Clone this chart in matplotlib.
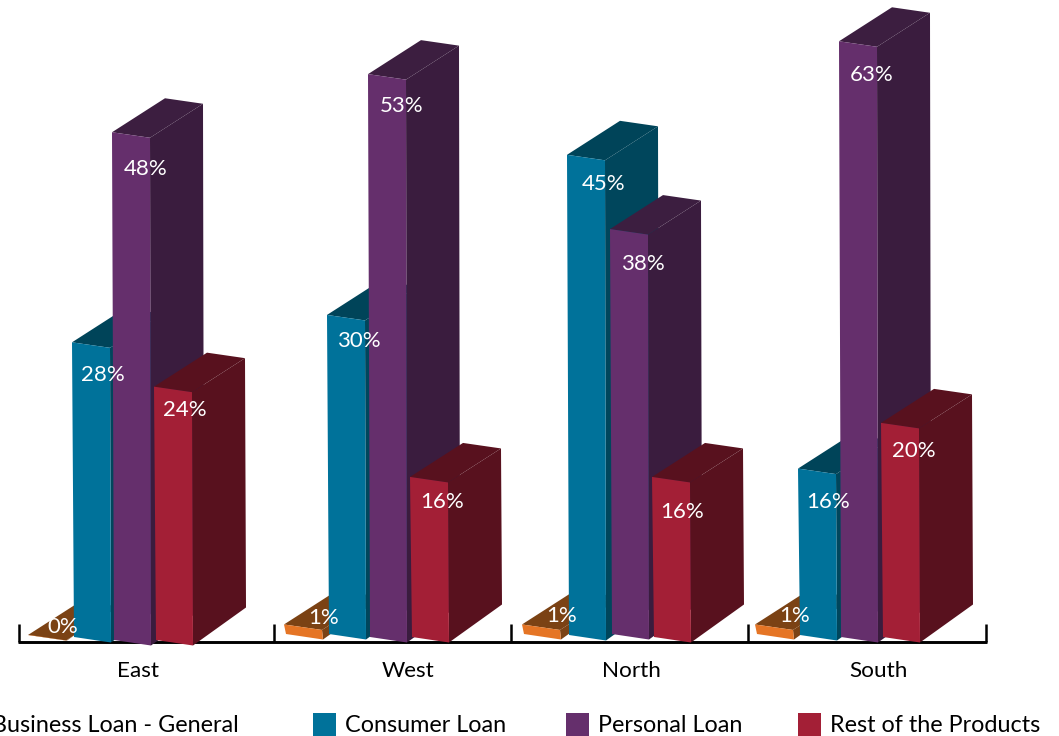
import matplotlib
matplotlib.use("Agg")
import matplotlib.pyplot as plt
from matplotlib.patches import Polygon, Rectangle

plt.rcParams['font.family'] = ['Lato', 'DejaVu Sans']

# Labels printed on the bars
regions = ["East", "West", "North", "South"]
business = [0, 1, 1, 1]
consumer = [28, 30, 45, 16]
personal = [48, 53, 38, 63]
rest = [24, 16, 16, 20]

# Heights the bars really have in the picture (South personal is cut short there)
business_drawn = [0, 0.9, 0.9, 0.9]
consumer_drawn = [27.8, 30.1, 45.3, 15.7]
personal_drawn = [47.9, 53.1, 38.2, 56.2]
rest_drawn = [23.9, 15.1, 15.1, 20.2]

series_names = ["Consumer Loan", "Personal Loan", "Rest of the Products"]

# Layout, in pixels of the 1059x736 picture
PX_PER_PCT = 10.6
BAR_W = 38
DEPTH_X = 53
DEPTH_Y_TOP = 34
DEPTH_Y_BOT = 38
SLOPE = 5.5
LEAN = 2

group_x = [72, 327, 567, 798]
axis_y = 642
axis_ticks = [19, 274, 511, 748, 986]
region_x = [138, 408, 631, 879]

# front, top, side colours
c_business = ("#E57525", "#7B4214", "#7B4214")
c_consumer = ("#00729A", "#004459", "#00465C")
c_personal = ("#652F6C", "#3C1E40", "#3A1C3E")
c_rest = ("#A31F36", "#58111E", "#58111E")

# (values, drawn heights, x offset per group, baseline per group, colours, label x, label drop)
series = [
    (business, business_drawn, [-44, -43, -45, -43], [635, 634, 634, 634], c_business,
     [35, 40, 40, 40], [-8, -6, -8, -8]),
    (consumer, consumer_drawn, [0, 0, 0, 0], [637, 634, 635, 635], c_consumer,
     [31, 32, 37, 30], [33, 26, 29, 33]),
    (personal, personal_drawn, [40, 41, 43, 41], [640, 637, 634, 637], c_personal,
     [34, 34, 33, 33], [37, 32, 35, 34]),
    (rest, rest_drawn, [82, 83, 85, 83], [640, 637, 637, 637], c_rest,
     [31, 32, 30, 33], [23, 25, 35, 28]),
]

fig = plt.figure(figsize=(10.59, 7.36), dpi=100)
ax = fig.add_axes([0, 0, 1, 1])
ax.set_xlim(0, 1059)
ax.set_ylim(736, 0)
ax.axis('off')

# Axis line with ticks between the regions
ax.plot([axis_ticks[0] - 1, axis_ticks[-1] + 1], [axis_y, axis_y], color='black', lw=2.1,
        solid_capstyle='butt', zorder=1)
for t in axis_ticks:
    ax.plot([t, t], [axis_y, 624], color='black', lw=1.8, solid_capstyle='butt', zorder=1)


def draw_bar(left, base, height, colours, z):
    front, top, side = colours
    y_top = base - height * PX_PER_PCT
    fl_top = (left, y_top)
    fr_top = (left + BAR_W, y_top + SLOPE)
    fl_bot = (left + LEAN, base)
    fr_bot = (left + BAR_W + 1, base + SLOPE)
    bl_top = (left + DEPTH_X, y_top - DEPTH_Y_TOP)
    br_top = (left + BAR_W + DEPTH_X, y_top + SLOPE - DEPTH_Y_TOP)
    br_bot = (left + BAR_W + 1 + DEPTH_X, base + SLOPE - DEPTH_Y_BOT)
    ax.add_patch(Polygon([fr_top, br_top, br_bot, fr_bot], fc=side, ec='none', zorder=z))
    ax.add_patch(Polygon([fl_top, bl_top, br_top, fr_top], fc=top, ec='none', zorder=z))
    ax.add_patch(Polygon([fl_top, fr_top, fr_bot, fl_bot], fc=front, ec='none', zorder=z))
    return y_top


z = 2
for g in range(len(regions)):
    for values, drawn, offs, bases, colours, lab_x, lab_drop in series:
        left = group_x[g] + offs[g]
        y_top = draw_bar(left, bases[g], drawn[g], colours, z)
        ax.text(left + lab_x[g], y_top + lab_drop[g], f"{values[g]}%", color='white',
                fontsize=16, ha='center', va='center', zorder=100)
        z += 1

for name, x in zip(regions, region_x):
    ax.text(x, 671, name, color='black', fontsize=16.2, ha='center', va='center')

# Legend: the first entry runs off the left edge in the reference
ax.text(239, 725.5, "Business Loan - General", color='black', fontsize=16.8, ha='right', va='center')
legend_x = [313, 566, 798]
for name, x, colours in zip(series_names, legend_x, [c_consumer, c_personal, c_rest]):
    ax.add_patch(Rectangle((x, 713), 23, 24, fc=colours[0], ec='none'))
    ax.text(x + 32, 725.5, name, color='black', fontsize=16.8, ha='left', va='center')

fig.savefig("out.png", dpi=100)
